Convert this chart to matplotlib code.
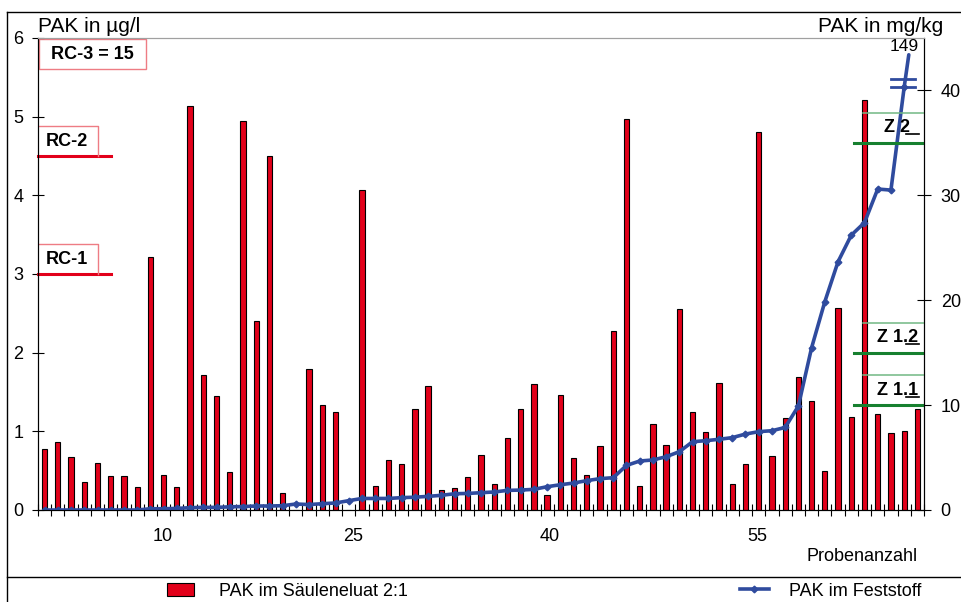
import matplotlib.pyplot as plt
import matplotlib.transforms as mtransforms
from matplotlib.lines import Line2D
from matplotlib.patches import Patch, Rectangle

plt.rcParams['font.family'] = ['Liberation Sans', 'DejaVu Sans']

# PAK im Säuleneluat 2:1 (µg/l), je Probe
eluat = [0.77, 0.87, 0.68, 0.36, 0.60, 0.43, 0.43, 0.29, 3.21, 0.45,
         0.29, 5.14, 1.71, 1.45, 0.48, 4.94, 2.40, 4.50, 0.21, 0.0,
         1.79, 1.33, 1.24, 0.0, 4.07, 0.30, 0.64, 0.58, 1.28, 1.58,
         0.25, 0.28, 0.42, 0.70, 0.33, 0.92, 1.28, 1.60, 0.19, 1.46,
         0.66, 0.45, 0.81, 2.27, 4.97, 0.30, 1.09, 0.83, 2.56, 1.24,
         0.99, 1.62, 0.33, 0.58, 4.81, 0.69, 1.17, 1.69, 1.39, 0.50,
         2.57, 1.18, 5.21, 1.22, 0.98, 1.01, 1.28]

# PAK im Feststoff (mg/kg), aufsteigend sortiert
feststoff = [0, 0, 0, 0, 0, 0, 0, 0, 0.12, 0.12,
             0.15, 0.22, 0.25, 0.25, 0.30, 0.33, 0.38, 0.38, 0.41, 0.57,
             0.52, 0.60, 0.67, 0.89, 1.10, 1.10, 1.10, 1.18, 1.22, 1.30,
             1.40, 1.55, 1.58, 1.65, 1.72, 1.87, 1.90, 1.97, 2.22, 2.41,
             2.57, 2.80, 2.99, 3.08, 4.25, 4.67, 4.77, 5.08, 5.56, 6.51,
             6.61, 6.74, 6.90, 7.24, 7.47, 7.56, 7.87, 9.91, 15.47, 19.86,
             23.67, 26.20, 27.40, 30.60, 30.50, 40.30, 149]

proben = list(range(1, len(eluat) + 1))
xtick_labels = ['10', '25', '40', '55']
xtick_pos = [9.92, 24.3, 39.18, 54.86]

rc_labels = ['RC-1', 'RC-2']
rc_values = [3.0, 4.5]
z_labels = ['Z 1.1', 'Z 1.2', 'Z 2']
z_values = [10, 15, 35]

red = '#e2001a'
red_light = '#ee7c84'
green = '#17802f'
green_light = '#72b884'
blue = '#2f4b9e'

fig = plt.figure(figsize=(9.62, 6.02), dpi=100)
ax = fig.add_axes([38 / 962, 92 / 602, 886 / 962, 472 / 602])
ax2 = ax.twinx()

ax.bar(proben, eluat, width=0.4, color=red, edgecolor='black', linewidth=0.8)
ax.set_xlim(0.5, len(proben) + 0.5)
ax.set_ylim(0, 6)
ax.set_yticks(range(7))

# Feststoff-Linie bis zur Achsenunterbrechung
ax2.plot(proben[:-1], feststoff[:-1], color=blue, lw=2.6, marker='D', ms=3.4)
ax2.set_ylim(0, 45)
ax2.set_yticks([0, 10, 20, 30, 40])

# letzter Wert ausserhalb der Skala
last = len(proben) - 1
ax2.annotate('', xy=(last + 0.35, 43.4), xytext=(last, feststoff[-2]),
             arrowprops=dict(arrowstyle='-', color=blue, lw=2.6, shrinkA=0, shrinkB=0))
ax2.text(last, 44.2, str(feststoff[-1]), ha='center', va='center', fontsize=12.5)
bt = mtransforms.blended_transform_factory(ax2.transAxes, ax2.transData)
for yb in [40.36, 41.09]:
    ax2.plot([0.9624, 0.99], [yb, yb], color=blue, lw=2, transform=bt, clip_on=False)

# RC-Grenzwerte (linke Achse)
tl = mtransforms.blended_transform_factory(ax.transAxes, ax.transData)
for lab, v in zip(rc_labels, rc_values):
    ax.plot([0, 0.0824], [v, v], color=red, lw=2.2, transform=tl, clip_on=False)
    ax.plot([0, 0.0677, 0.0677], [v + 0.38, v + 0.38, v], color=red_light, lw=1,
            transform=tl)
    ax.text(0.0322, v + 0.19, lab, transform=tl, ha='center', va='center',
            fontsize=13, fontweight='bold')
ax.add_patch(Rectangle((0.001, 5.606), 0.121, 0.38, transform=tl, fill=False,
                       edgecolor=red_light, lw=1))
ax.text(0.0615, 5.796, 'RC-3 = 15', transform=tl, ha='center', va='center',
        fontsize=13, fontweight='bold')

# Z-Zuordnungswerte (rechte Achse)
for lab, v in zip(z_labels, z_values):
    ax2.plot([0.921, 1], [v, v], color=green, lw=2.2, transform=bt)
    ax2.plot([0.9309, 1], [v + 2.86, v + 2.86], color=green_light, lw=1.1, transform=bt)
    ax2.text(0.970, v + 1.43, lab, transform=bt, ha='center', va='center',
             fontsize=13, fontweight='bold')
    ax2.plot([0.9797, 0.9944], [v + 0.8, v + 0.8], color='black', lw=1.2, transform=bt)

for a in (ax, ax2):
    a.spines['top'].set_color('#a0a0a0')
    a.spines['left'].set_color('black')
    a.spines['right'].set_color('black')

ax.tick_params(axis='y', direction='inout', length=9, width=0.8, pad=6, labelsize=13)
ax2.tick_params(axis='y', direction='inout', length=10, width=0.8, pad=7, labelsize=13)
ax.set_xticks([p + 0.5 for p in range(len(proben) + 1)], minor=True)
ax.set_xticks(xtick_pos)
ax.set_xticklabels(xtick_labels)
ax.tick_params(axis='x', which='minor', direction='inout', length=8, width=0.8)
ax.tick_params(axis='x', which='major', length=0, pad=13, labelsize=13)

fig.text(38 / 962, 1 - 31.5 / 602, 'PAK in µg/l', ha='left', va='baseline', fontsize=15)
fig.text(943 / 962, 1 - 31.5 / 602, 'PAK in mg/kg', ha='right', va='baseline', fontsize=15)
fig.text(918 / 962, 1 - 561 / 602, 'Probenanzahl', ha='right', va='baseline', fontsize=13)

# Rahmen und Trennlinie zur Legende
for xs, ys in [([7.3 / 962, 1], [1 - 11.5 / 602] * 2),
               ([7.3 / 962] * 2, [0, 1 - 11.5 / 602]),
               ([7.3 / 962, 1], [25 / 602] * 2)]:
    fig.add_artist(Line2D(xs, ys, transform=fig.transFigure, color='black', lw=1))

fig.legend(handles=[Patch(facecolor=red, edgecolor='black', lw=0.8)],
           labels=['PAK im Säuleneluat 2:1'], loc='center left',
           bbox_to_anchor=(167 / 962, 11 / 602), frameon=False, fontsize=13,
           borderpad=0, borderaxespad=0, handlelength=1.5, handletextpad=1.4)
fig.legend(handles=[Line2D([], [], color=blue, lw=2.6, marker='D', ms=3.4)],
           labels=['PAK im Feststoff'], loc='center left',
           bbox_to_anchor=(740 / 962, 11 / 602), frameon=False, fontsize=13,
           borderpad=0, borderaxespad=0, handlelength=1.6, handletextpad=1.1)

fig.savefig('out.png', dpi=100)
